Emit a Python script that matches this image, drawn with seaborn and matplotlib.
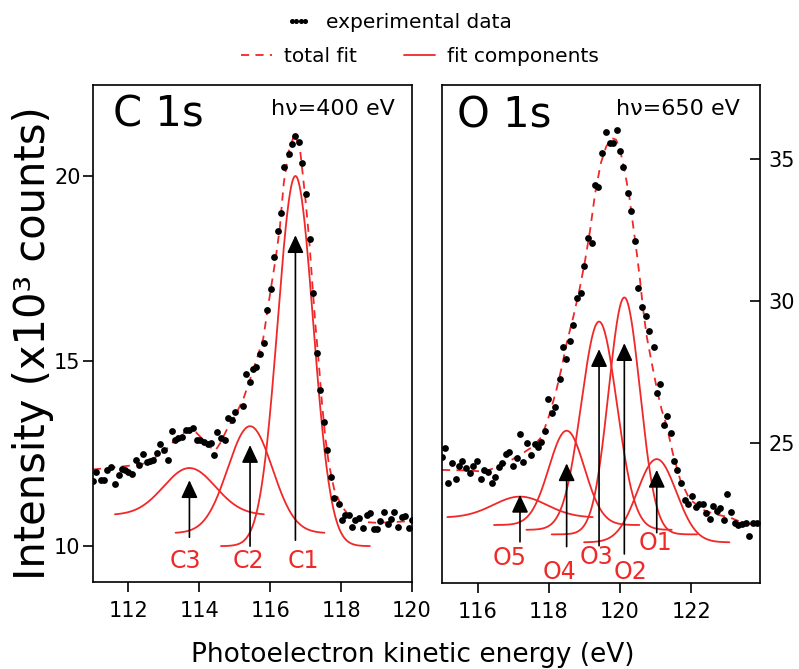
import numpy as np
import matplotlib
matplotlib.use('Agg')
import matplotlib.pyplot as plt
import seaborn as sns
from matplotlib.lines import Line2D

# ---------------- data ----------------
# C 1s panel: experimental points
c_x = [111.00, 111.08, 111.22, 111.31, 111.40, 111.51, 111.62, 111.72, 111.81, 111.90,
       112.00, 112.09, 112.21, 112.31, 112.40, 112.52, 112.61, 112.70, 112.80, 112.89,
       113.00, 113.11, 113.22, 113.32, 113.41, 113.51, 113.63, 113.72, 113.82, 113.93,
       114.02, 114.13, 114.23, 114.32, 114.42, 114.51, 114.61, 114.73, 114.82, 114.92,
       115.01, 115.23, 115.32, 115.42, 115.51, 115.60, 115.72, 115.81, 115.91, 116.02,
       116.11, 116.21, 116.30, 116.40, 116.52, 116.61, 116.71, 116.81, 116.90, 117.02,
       117.11, 117.21, 117.32, 117.41, 117.51, 117.60, 117.71, 117.81, 117.93, 118.03,
       118.12, 118.21, 118.31, 118.40, 118.49, 118.61, 118.73, 118.82, 118.92, 119.01,
       119.11, 119.22, 119.31, 119.41, 119.50, 119.60, 119.72, 119.81, 119.91, 120.00]
c_y = [11.76, 12.00, 11.80, 11.80, 12.05, 12.14, 11.68, 11.92, 12.08, 12.05,
       12.00, 11.95, 12.32, 12.19, 12.50, 12.28, 12.30, 12.32, 12.52, 12.75,
       12.60, 12.34, 13.12, 12.86, 12.91, 12.95, 13.14, 13.15, 13.18, 12.88,
       12.86, 12.82, 12.75, 12.78, 12.46, 13.09, 12.91, 12.86, 13.45, 13.41,
       13.63, 13.78, 14.65, 14.44, 14.78, 14.85, 15.19, 15.48, 16.38, 16.94,
       17.80, 18.51, 18.99, 20.25, 20.59, 20.86, 21.08, 20.92, 20.36, 19.51,
       18.29, 16.85, 15.22, 14.22, 13.36, 12.59, 11.87, 11.29, 11.15, 10.70,
       10.84, 10.84, 10.52, 10.70, 10.75, 10.48, 10.84, 10.90, 10.45, 10.45,
       10.68, 10.93, 10.61, 10.72, 10.93, 10.52, 10.79, 10.81, 10.48, 10.70]
# C 1s total fit (dashed)
c_fit_x = [111.0, 111.5, 112.0, 112.5, 113.0, 113.4, 113.7, 113.9, 114.1, 114.3,
           114.45, 114.6, 114.8, 115.0, 115.25, 115.5, 115.8, 116.0, 116.15, 116.27,
           116.38, 116.52, 116.68, 116.83, 116.9, 117.0, 117.1, 117.18, 117.27, 117.37,
           117.46, 117.55, 117.65, 117.8, 118.0, 118.2, 118.4, 118.7, 119.0, 119.5,
           120.0]
c_fit_y = [12.07, 12.12, 12.17, 12.24, 12.55, 12.95, 13.15, 13.08, 12.88, 12.68,
           12.58, 12.80, 13.20, 13.50, 14.00, 14.70, 15.60, 16.85, 17.75, 18.60,
           19.80, 20.66, 21.13, 20.80, 20.20, 19.30, 18.26, 17.19, 16.02, 14.94,
           13.86, 12.96, 12.24, 11.55, 11.10, 10.85, 10.72, 10.65, 10.63, 10.65,
           10.68]
# C 1s fit components (gaussian parameters, offset baselines)
c_names = ['C1', 'C2', 'C3']
c_center = [116.71, 115.43, 113.72]
c_amp = [10.0, 2.89, 1.27]
c_sigma = [0.50, 0.63, 0.73]
c_base = [10.0, 10.35, 10.84]
c_arrow_lo = [10.16, 10.00, 10.24]
c_arrow_hi = [18.40, 12.73, 11.78]
c_lab_x = [116.92, 115.39, 113.60]
c_lab_y = [9.59, 9.59, 9.59]

# O 1s panel: experimental points
o_x = [115.00, 115.08, 115.18, 115.29, 115.38, 115.48, 115.57, 115.68, 115.79, 115.88,
       115.97, 116.09, 116.19, 116.28, 116.40, 116.49, 116.60, 116.69, 116.80, 116.89,
       117.00, 117.10, 117.19, 117.28, 117.40, 117.49, 117.60, 117.70, 117.79, 117.89,
       117.99, 118.08, 118.17, 118.30, 118.39, 118.48, 118.60, 118.69, 118.80, 118.90,
       119.00, 119.11, 119.20, 119.30, 119.39, 119.50, 119.61, 119.72, 119.81, 119.91,
       120.00, 120.09, 120.21, 120.32, 120.42, 120.51, 120.61, 120.73, 120.82, 120.94,
       121.03, 121.12, 121.24, 121.31, 121.42, 121.52, 121.61, 121.71, 121.83, 121.92,
       122.01, 122.13, 122.23, 122.32, 122.42, 122.53, 122.62, 122.72, 122.81, 122.92,
       123.01, 123.12, 123.23, 123.32, 123.42, 123.54, 123.63, 123.74, 123.84]
o_y = [24.50, 24.81, 23.60, 24.28, 23.72, 24.17, 24.38, 24.11, 23.93, 24.19,
       24.36, 23.72, 24.05, 23.99, 23.60, 23.81, 24.14, 24.31, 24.61, 24.68,
       24.19, 24.46, 25.32, 24.34, 25.01, 24.58, 24.96, 24.85, 25.04, 25.43,
       26.54, 26.05, 26.26, 27.25, 28.37, 27.95, 28.60, 29.15, 30.09, 30.27,
       31.23, 32.21, 32.05, 34.08, 34.00, 35.22, 35.93, 35.55, 35.55, 36.00,
       35.26, 34.71, 33.81, 33.18, 32.12, 30.45, 29.80, 29.47, 28.95, 28.39,
       26.75, 27.08, 25.63, 25.95, 25.34, 24.38, 24.05, 23.60, 22.99, 22.85,
       23.13, 22.74, 22.85, 22.85, 22.52, 22.31, 22.78, 22.62, 22.70, 22.29,
       23.19, 22.58, 22.17, 22.11, 22.15, 22.19, 21.73, 22.17, 22.19]
# O 1s total fit (dashed)
o_fit_x = [115.0, 115.7, 116.2, 116.7, 117.15, 117.55, 117.8, 118.0, 118.2, 118.35,
           118.5, 118.69, 118.86, 119.02, 119.16, 119.3, 119.46, 119.61, 119.77, 119.89,
           120.0, 120.14, 120.26, 120.37, 120.47, 120.56, 120.65, 120.75, 120.89, 121.05,
           121.17, 121.31, 121.48, 121.69, 121.95, 122.34, 122.64, 123.07, 123.45, 123.93]
o_fit_y = [24.05, 24.03, 23.99, 24.23, 24.54, 24.87, 25.22, 25.93, 26.80, 27.60,
           28.51, 29.45, 30.39, 31.44, 32.50, 33.79, 34.85, 35.43, 35.73, 35.67,
           35.32, 34.50, 33.67, 32.62, 31.68, 30.74, 29.68, 28.74, 27.81, 26.80,
           26.16, 25.60, 24.64, 23.70, 23.02, 22.64, 22.50, 22.38, 22.19, 22.08]
# O 1s fit components
o_names = ['O1', 'O2', 'O3', 'O4', 'O5']
o_center = [121.03, 120.12, 119.41, 118.50, 117.19]
o_amp = [2.93, 8.34, 7.33, 3.32, 0.74]
o_sigma = [0.55, 0.44, 0.50, 0.50, 0.75]
o_base = [21.50, 21.78, 21.94, 22.11, 22.37]
o_arrow_lo = [21.84, 21.09, 21.38, 21.35, 21.52]
o_arrow_hi = [24.05, 28.51, 28.30, 24.28, 23.17]
o_lab_x = [120.98, 120.30, 119.35, 118.31, 116.91]
o_lab_y = [21.47, 20.47, 21.00, 20.47, 20.94]

# ---------------- style ----------------
sns.set_theme(style='white')
plt.rcParams['font.family'] = ['DejaVu Sans']
plt.rcParams['axes.edgecolor'] = 'black'
plt.rcParams['axes.linewidth'] = 1.2
plt.rcParams['text.color'] = 'black'
plt.rcParams['axes.labelcolor'] = 'black'
plt.rcParams['xtick.color'] = 'black'
plt.rcParams['ytick.color'] = 'black'

RED = '#f02828'
DASH = (0, (4.5, 3.5))

fig = plt.figure(figsize=(7.99, 6.69), dpi=100)
ax1 = fig.add_axes([0.1164, 0.1300, 0.3993, 0.7430])
ax2 = fig.add_axes([0.5532, 0.1286, 0.3980, 0.7444])


def draw_panel(ax, dx, dy, fx, fy, names, cen, amp, sig, base, half,
               arr_lo, arr_hi, lab_x, lab_y):
    for c, a, s, b in zip(cen, amp, sig, base):
        xs = np.linspace(c - half, c + half, 300)
        ys = b + a * np.exp(-0.5 * ((xs - c) / s) ** 2)
        sns.lineplot(x=xs, y=ys, ax=ax, color=RED, lw=1.3,
                     estimator=None, sort=False)
    sns.lineplot(x=fx, y=fy, ax=ax, color=RED, lw=1.3, linestyle=DASH,
                 estimator=None, sort=False)
    sns.scatterplot(x=dx, y=dy, ax=ax, color='black', s=24, linewidth=0,
                    zorder=3)
    for x, lo, hi in zip(cen, arr_lo, arr_hi):
        ax.annotate('', xy=(x, hi), xytext=(x, lo),
                    arrowprops=dict(arrowstyle='-|>,head_length=0.9,head_width=0.42',
                                    color='black', lw=1.2, shrinkA=0, shrinkB=0,
                                    mutation_scale=12))
    for n, x, y in zip(names, lab_x, lab_y):
        ax.text(x, y, n, color=RED, fontsize=17, ha='center', va='center')
    ax.set_xlabel('')
    ax.set_ylabel('')
    for sp in ax.spines.values():
        sp.set_visible(True)
        sp.set_color('black')
        sp.set_linewidth(1.2)


draw_panel(ax1, c_x, c_y, c_fit_x, c_fit_y, c_names, c_center, c_amp, c_sigma,
           c_base, 2.1, c_arrow_lo, c_arrow_hi, c_lab_x, c_lab_y)
draw_panel(ax2, o_x, o_y, o_fit_x, o_fit_y, o_names, o_center, o_amp, o_sigma,
           o_base, 2.04, o_arrow_lo, o_arrow_hi, o_lab_x, o_lab_y)

ax1.set_xlim(111.0, 120.0)
ax1.set_ylim(9.03, 22.46)
ax1.set_xticks([112, 114, 116, 118, 120])
ax1.set_yticks([10, 15, 20])
ax1.tick_params(axis='both', direction='out', length=7, width=1.2,
                color='black', labelsize=15, labelcolor='black',
                bottom=True, left=True)
ax1.tick_params(axis='x', pad=7)
ax1.tick_params(axis='y', pad=2)

ax2.set_xlim(115.0, 123.93)
ax2.set_ylim(20.07, 37.6)
ax2.set_xticks([116, 118, 120, 122])
ax2.set_yticks([25, 30, 35])
ax2.tick_params(axis='x', direction='out', length=7, width=1.2, color='black',
                labelsize=15, labelcolor='black', bottom=True, pad=7)
ax2.tick_params(axis='y', direction='in', length=7, width=1.2, color='black',
                labelsize=15, labelcolor='black', left=False, right=True,
                labelleft=False, labelright=True, pad=6)

# panel titles
ax1.text(0.063, 0.9155, 'C 1s', transform=ax1.transAxes, fontsize=30,
         ha='left', va='baseline', color='black')
ax1.text(0.947, 0.94, 'h\u03bd=400 eV', transform=ax1.transAxes, fontsize=16,
         ha='right', va='baseline', color='black')
ax2.text(0.048, 0.9155, 'O 1s', transform=ax2.transAxes, fontsize=30,
         ha='left', va='baseline', color='black')
ax2.text(0.937, 0.94, 'h\u03bd=650 eV', transform=ax2.transAxes, fontsize=16,
         ha='right', va='baseline', color='black')

# axis labels
fig.text(0.041, 0.487, 'Intensity (x10\u00b3 counts)', rotation=90,
         fontsize=30, ha='center', va='center', color='black')
fig.text(0.516, 0.0105, 'Photoelectron kinetic energy (eV)', fontsize=19,
         ha='center', va='baseline', color='black')

# legends
h_exp = Line2D([], [], color='black', marker='o', ms=2.6, linestyle='none')
h_tot = Line2D([], [], color=RED, lw=1.3, linestyle=DASH)
h_comp = Line2D([], [], color=RED, lw=1.3)
fig.legend([h_exp], ['experimental data'], loc='center',
           bbox_to_anchor=(0.4994, 0.967), frameon=False, fontsize=14.5,
           handlelength=1.25, handletextpad=0.75, numpoints=4,
           borderpad=0, borderaxespad=0, labelcolor='black')
fig.legend([h_tot, h_comp], ['total fit', 'fit components'], loc='center',
           bbox_to_anchor=(0.5257, 0.915), ncol=2, frameon=False, fontsize=14.5,
           handlelength=1.55, handletextpad=0.6, columnspacing=2.3,
           borderpad=0, borderaxespad=0, labelcolor='black')

fig.savefig('out.png', dpi=100)
